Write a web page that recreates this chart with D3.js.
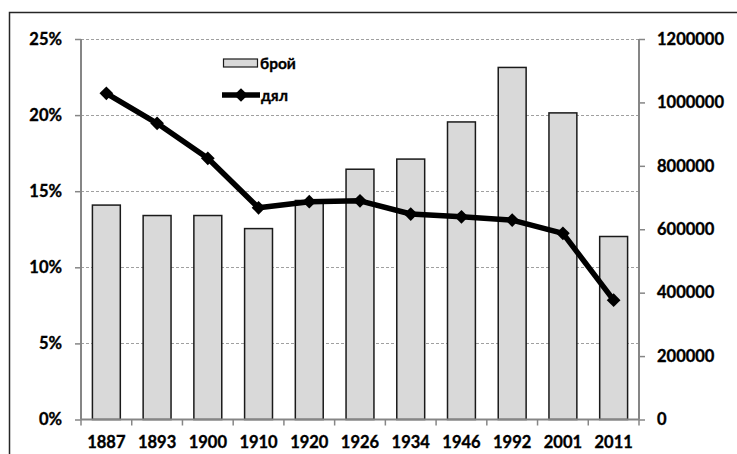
<!DOCTYPE html>
<html><head><meta charset="utf-8">
<script src="https://cdn.jsdelivr.net/npm/d3@7"></script>
<style>body{margin:0;background:#fff}svg{display:block}text{font-family:Lato,"Open Sans",sans-serif;font-weight:bold;fill:#000;stroke:#000;stroke-width:0.35px}</style>
</head><body>
<script>
const years = ["1887","1893","1900","1910","1920","1926","1934","1946","1992","2001","2011"];
const counts = [676215,643258,643300,602078,690734,789296,821298,938418,1110295,966978,577139];
const shares = [0.2143,0.1946,0.1716,0.1391,0.1431,0.1437,0.1350,0.1332,0.1310,0.1223,0.0784];
const leftTicks = [0,0.05,0.10,0.15,0.20,0.25];
const rightTicks = [0,200000,400000,600000,800000,1000000,1200000];
const seriesNames = ["брой","дял"];

const W=737,H=454;
const svg=d3.select("body").append("svg").attr("width",W).attr("height",H);
const L=81,R=639,T=39,B=419.5;
const x=d3.scaleBand().domain(years).range([L,R]);
const yL=d3.scaleLinear().domain([0,0.25]).range([B,T]);
const yR=d3.scaleLinear().domain([0,1200000]).range([B,T]);

// frame
svg.append("path").attr("d",`M9.5,${H+2}V12.5H${W+2}`).attr("fill","none").attr("stroke","#262626").attr("stroke-width",1.5);

// gridlines
svg.append("g").selectAll("line").data(leftTicks.slice(1)).join("line")
  .attr("x1",L).attr("x2",R).attr("y1",d=>Math.round(yL(d))+0.5).attr("y2",d=>Math.round(yL(d))+0.5)
  .attr("stroke","#a0a0a0").attr("stroke-width",1).attr("stroke-dasharray","3,2");

// bars
const bw=x.bandwidth()*0.55;
svg.append("g").selectAll("rect").data(years).join("rect")
  .attr("x",(d)=>x(d)+(x.bandwidth()-bw)/2).attr("width",bw)
  .attr("y",(d,i)=>yR(counts[i])).attr("height",(d,i)=>B-yR(counts[i]))
  .attr("fill","#d9d9d9").attr("stroke","#1a1a1a").attr("stroke-width",1.5);

// axes
const gl=svg.append("g").attr("transform",`translate(${L},0)`).call(d3.axisLeft(yL).tickValues(leftTicks).tickFormat(d3.format(".0%")).tickSize(6).tickPadding(13));
const gr=svg.append("g").attr("transform",`translate(${R},0)`).call(d3.axisRight(yR).tickValues(rightTicks).tickFormat(d=>String(d)).tickSize(6).tickPadding(12));
const gb=svg.append("g").attr("transform",`translate(0,${B})`).call(d3.axisBottom(x).tickSize(0).tickPadding(17));
// x ticks at band boundaries
svg.append("g").selectAll("line").data(d3.range(years.length+1)).join("line")
  .attr("x1",i=>L+i*x.step()).attr("x2",i=>L+i*x.step()).attr("y1",B).attr("y2",B+6)
  .attr("stroke","#868686").attr("stroke-width",1.5);
[gl,gr,gb].forEach(g=>{
  g.selectAll(".domain").attr("stroke","#868686").attr("stroke-width",2);
  g.selectAll(".tick line").attr("stroke","#868686").attr("stroke-width",1.5);
  g.selectAll("text").attr("font-size",16.5).attr("font-family","Lato").attr("font-weight","bold").attr("fill","#000");
});
gl.select(".domain").attr("d",`M0,${B}V${T}`);
gr.select(".domain").attr("d",`M0,${B}V${T}`);
gb.select(".domain").attr("d",`M${L},0H${R}`);

// line
const pts=years.map((d,i)=>[x(d)+x.bandwidth()/2,yL(shares[i])]);
svg.append("path").attr("d",d3.line()(pts)).attr("fill","none").attr("stroke","#000").attr("stroke-width",5.5).attr("stroke-linejoin","round");
const diamond=d3.symbol().type(d3.symbolDiamond2).size(120);
svg.append("g").selectAll("path").data(pts).join("path")
  .attr("transform",d=>`translate(${d[0]},${d[1]})`).attr("d",diamond).attr("fill","#000");

// legend
svg.append("rect").attr("x",223.5).attr("y",59).attr("width",34).attr("height",8).attr("fill","#d9d9d9").attr("stroke","#1a1a1a").attr("stroke-width",1.2);
svg.append("text").attr("x",260).attr("y",64).attr("dy","0.35em").attr("font-size",15.5).text(seriesNames[0]);
svg.append("line").attr("x1",222).attr("x2",260).attr("y1",95).attr("y2",95).attr("stroke","#000").attr("stroke-width",5.5);
svg.append("path").attr("transform","translate(241,95)").attr("d",diamond).attr("fill","#000");
svg.append("text").attr("x",261).attr("y",96).attr("dy","0.35em").attr("font-size",15.5).text(seriesNames[1]);
</script>
</body></html>
